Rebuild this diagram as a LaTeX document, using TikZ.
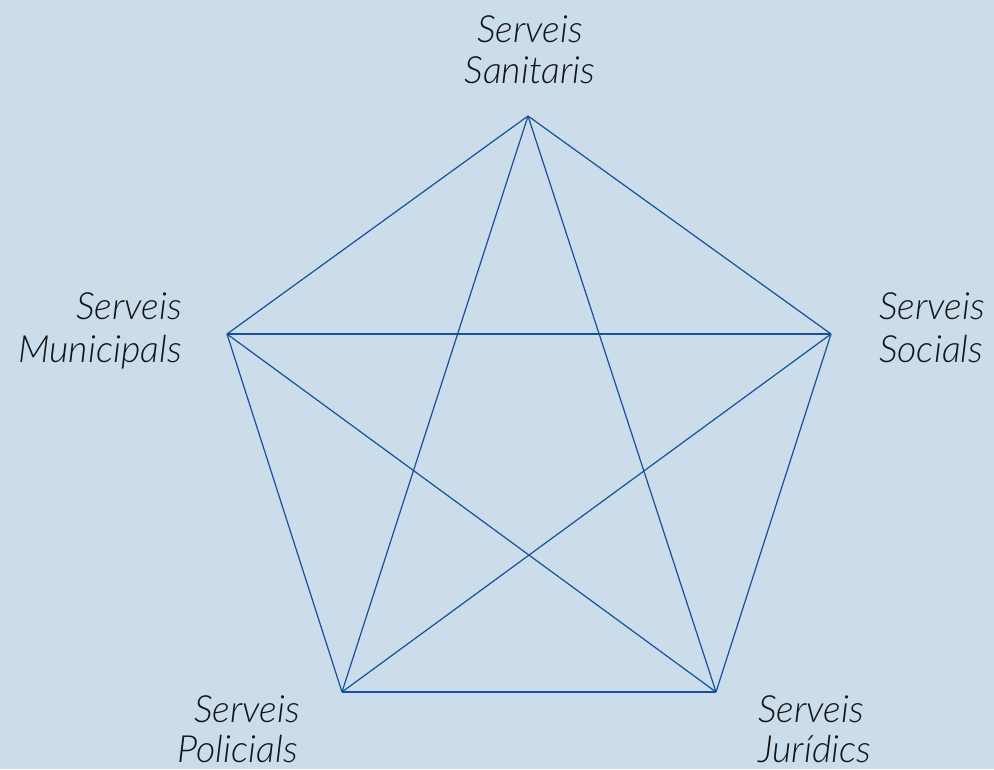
\documentclass[tikz,border=0pt]{standalone}
\usepackage{fontspec}
\setmainfont{Lato Light}
\definecolor{bg}{HTML}{CBDCEB}
\definecolor{edge}{HTML}{1451A0}
\definecolor{ink}{HTML}{141414}
\begin{document}
\begin{tikzpicture}[x=1pt,y=-1pt,
  lbl/.style={inner sep=0pt, font=\fontsize{37.5}{44}\selectfont\itshape, text=ink},
  link/.style={draw=edge, line width=1.2pt}]
\fill[bg] (0,0) rectangle (994,769);
\useasboundingbox (0,0) rectangle (994,769);
\coordinate (top) at (528,116);
\coordinate (lft) at (227,334);
\coordinate (rgt) at (831,334);
\coordinate (bl) at (342,692);
\coordinate (br) at (716,692);
\foreach \a/\b in {top/lft,top/rgt,top/bl,top/br,lft/rgt,lft/bl,lft/br,rgt/bl,rgt/br,bl/br}
  \draw[link] (\a) -- (\b);
\node[lbl, anchor=base] (t1) at (530,42) {Serveis};
\node[lbl, anchor=base] (t2) at (530,83) {Sanitaris};
\node[lbl, anchor=base east] (l1) at (182,319) {Serveis};
\node[lbl, anchor=base east] (l2) at (182,362) {Municipals};
\node[lbl, anchor=base west] (r1) at (879,319) {Serveis};
\node[lbl, anchor=base west] (r2) at (879,362) {Socials};
\node[lbl, anchor=base east] (bl1) at (300,722) {Serveis};
\node[lbl, anchor=base east] (bl2) at (298,762) {Policials};
\node[lbl, anchor=base west] (br1) at (758,722) {Serveis};
\node[lbl, anchor=base west] (br2) at (758,762) {Jurídics};
\end{tikzpicture}
\end{document}
